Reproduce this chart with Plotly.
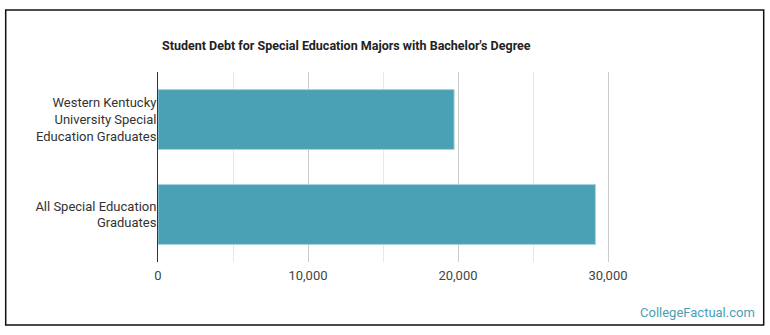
import plotly.graph_objects as go

categories = ["Western Kentucky<br>University Special<br>Education Graduates",
              "All Special Education<br>Graduates"]
values = [19740, 29160]
tick_values = [0, 10000, 20000, 30000]
tick_labels = ["0", "10,000", "20,000", "30,000"]
minor_grid = [5000, 15000, 25000]

W, H = 770, 335
PL, PR, PT, PB = 158.3, 758.3, 72, 262

def px2paper_x(px):
    return (px - PL) / (PR - PL)

def px2paper_y(py):
    return (PB - py) / (PB - PT)

fig = go.Figure(go.Bar(
    x=values, y=categories, orientation="h",
    marker=dict(color="#4aa0b5", line=dict(color="#a6d3dd", width=1)),
    width=0.63, hoverinfo="x+y",
))

fig.update_layout(
    width=W, height=H,
    margin=dict(l=PL, r=W - PR, t=PT, b=H - PB, pad=0),
    paper_bgcolor="white", plot_bgcolor="white",
    font=dict(family="Roboto", size=13, color="#333"),
    showlegend=False,
    bargap=0.37,
    xaxis=dict(range=[0, 40000], tickvals=tick_values, ticktext=tick_labels,
               showgrid=True, gridcolor="#cccccc", gridwidth=1,
               minor=dict(tickvals=minor_grid, showgrid=True, gridcolor="#e8e8e8", ticks=""),
               zeroline=False, showline=False, ticks="",
               tickfont=dict(size=13, color="#444"), ticklabelstandoff=4, fixedrange=True),
    yaxis=dict(autorange="reversed", showline=True, linecolor="#333", linewidth=1,
               showgrid=False, ticks="", tickfont=dict(size=13, color="#333"),
               ticklabelstandoff=-2, fixedrange=True),
    shapes=[dict(type="rect", xref="paper", yref="paper",
                 x0=px2paper_x(6), x1=px2paper_x(764),
                 y0=px2paper_y(325), y1=px2paper_y(10),
                 line=dict(color="#111", width=1.5), fillcolor="rgba(0,0,0,0)", layer="below")],
    annotations=[
        dict(text="<b>Student Debt for Special Education Majors with Bachelor's Degree</b>",
             xref="paper", yref="paper", x=px2paper_x(160), y=px2paper_y(45),
             xanchor="left", yanchor="middle", showarrow=False,
             font=dict(family="Roboto", size=12.5, color="#222")),
        dict(text="CollegeFactual.com", xref="paper", yref="paper",
             x=px2paper_x(757), y=px2paper_y(312), xanchor="right", yanchor="middle",
             showarrow=False, font=dict(family="Roboto", size=13, color="#4aa0b5")),
    ],
)

fig.write_html("out.html")
